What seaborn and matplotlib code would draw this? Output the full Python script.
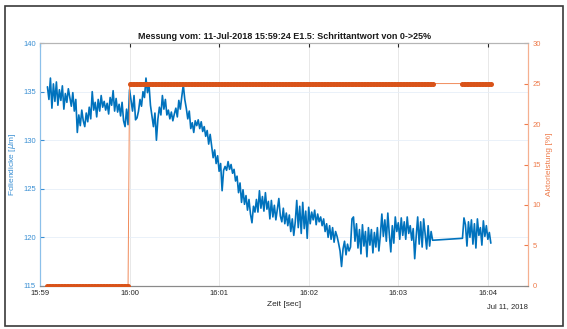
import matplotlib
matplotlib.use("Agg")
import matplotlib.pyplot as plt
import matplotlib.dates as mdates
from matplotlib.patches import Rectangle
import pandas as pd
import seaborn as sns

# seconds after 15:59:00 (one sample per second, gap between 263 and 283)
zeit_sek = list(range(5, 264)) + list(range(283, 303))

foliendicke = [
    135.5, 134.2, 136.4, 133.3, 135.8, 134.0, 136.0, 133.6, 135.2, 134.1,
    135.6, 133.2, 134.8, 133.9, 135.3, 134.4, 133.5, 134.9, 133.0, 134.2,
    130.8, 132.6, 131.5, 133.1, 132.0, 131.4, 132.8, 131.9, 133.4, 132.2,
    135.0, 133.1, 133.9, 132.4, 134.2, 133.0, 134.6, 133.4, 134.0, 133.1,
    133.8, 132.7, 134.4, 133.6, 135.1, 133.0, 134.3, 132.9, 133.7, 132.5,
    133.9, 132.0, 131.4, 133.2, 131.6, 135.2, 134.1, 133.0, 134.6, 132.1,
    132.3, 133.0, 134.2, 133.5, 135.0, 134.4, 136.4, 134.9, 135.8, 133.6,
    132.5, 131.4, 132.8, 130.0, 132.2, 133.4, 132.6, 134.6, 133.2, 134.2,
    132.6, 133.1, 132.2, 132.9, 132.0, 132.7, 133.3, 132.4, 134.1, 133.2,
    134.5, 135.7, 134.2, 133.3, 132.2, 133.0, 131.2, 131.8, 130.8, 132.0,
    131.5, 132.1, 131.2, 131.9, 130.9, 131.4, 130.4, 131.0, 129.6, 130.6,
    129.4, 128.2, 129.0, 127.6, 128.4, 126.8, 127.6, 124.8, 126.9, 127.3,
    126.9, 127.8, 127.0, 127.5, 126.6, 127.0, 125.8, 126.3, 124.6, 125.6,
    123.6, 124.9, 123.4, 124.3, 122.8, 123.9, 122.4, 121.5, 123.2, 122.6,
    123.9, 122.6, 124.8, 123.0, 124.2, 122.7, 124.6, 122.9, 123.7, 121.9,
    123.8, 122.1, 123.3, 121.8, 122.9, 124.0, 122.2, 121.6, 123.0, 121.4,
    122.5, 121.2, 122.3, 120.6, 121.9, 120.2, 121.6, 123.8, 121.0, 123.2,
    120.4, 123.6, 120.9, 122.7, 119.9, 123.1, 121.4, 122.6, 121.8, 122.8,
    121.3, 122.4, 121.6, 122.1, 121.2, 121.9, 120.6, 121.4, 120.0, 121.2,
    119.8, 121.0, 119.5, 120.6, 120.1, 119.4, 118.6, 117.0, 118.8, 119.6,
    118.2, 119.3, 118.6, 119.0, 121.9, 122.1, 119.6, 121.4, 118.9, 120.8,
    118.3, 121.3, 119.1, 120.6, 118.0, 121.0, 119.2, 120.8, 118.4, 120.5,
    119.0, 121.0, 118.6, 120.2, 122.4, 120.1, 121.8, 119.6, 122.5, 120.3,
    118.5, 121.2, 119.4, 122.1, 120.6, 121.5, 119.8, 122.0, 120.2, 121.6,
    119.8, 122.1, 120.4, 121.2, 119.7, 120.9, 117.8, 120.1, 122.1, 119.3,
    121.6, 119.0, 121.9, 120.3, 118.8, 121.2, 119.1, 120.6, 119.7,
    119.9, 122.0, 121.3, 119.1, 121.6, 120.0, 121.8, 119.3, 121.4, 118.9,
    121.9, 120.2, 121.0, 119.2, 121.7, 120.1, 121.2, 119.8, 120.5, 119.4,
]

# step 0 -> 25 % at 16:00:00
aktorleistung = [0] * 55 + [25] * 204 + [25] * 20

start = pd.Timestamp("2018-07-11 15:59:00")
df = pd.DataFrame({
    "zeit": start + pd.to_timedelta(zeit_sek, unit="s"),
    "dicke": foliendicke,
    "aktor": aktorleistung,
})

blau = "#0072BD"
blau_txt = "#3a8fd3"
orange = "#D95319"
orange_txt = "#ee7c4c"

sns.set_style("white")
plt.rcParams["font.family"] = ["Liberation Sans", "DejaVu Sans"]

fig = plt.figure(figsize=(5.67, 3.29), dpi=100)
ax = fig.add_axes([0.0705, 0.131, 0.861, 0.738])
ax2 = ax.twinx()

sns.lineplot(data=df, x="zeit", y="dicke", ax=ax, color=blau, linewidth=1.2)
sns.lineplot(data=df, x="zeit", y="aktor", ax=ax2, color="#f08a5a", linewidth=0.7)
sns.scatterplot(data=df, x="zeit", y="aktor", ax=ax2, color=orange, s=13,
                linewidth=0, zorder=3)

ax.set_xlim(start, start + pd.Timedelta(seconds=327))
ax.set_ylim(115, 140)
ax.set_yticks([115, 120, 125, 130, 135, 140])
ax2.set_ylim(0, 30)
ax2.set_yticks([0, 5, 10, 15, 20, 25, 30])
ax.xaxis.set_major_locator(mdates.MinuteLocator())
ax.xaxis.set_major_formatter(mdates.DateFormatter("%H:%M"))

ax.grid(True, axis="x", color="#e4e4e4", linewidth=0.6)
ax.grid(True, axis="y", color="#e6eff8", linewidth=0.6)

ax.tick_params(axis="x", direction="in", length=3, labelsize=5.5,
               colors="#262626", top=True, pad=3)
ax.tick_params(axis="y", direction="in", length=3, labelsize=5.5,
               colors=blau_txt, pad=3)
ax2.tick_params(axis="y", direction="in", length=3, labelsize=5.5,
                colors=orange_txt, pad=3)

for a in (ax, ax2):
    a.spines["top"].set_color("#b5b5b5")
    a.spines["bottom"].set_color("#8a8a8a")
    a.spines["left"].set_color("#8cc0ea")
    a.spines["right"].set_color("#f5b090")
    for s in a.spines.values():
        s.set_linewidth(0.8)

ax.set_xlabel("Zeit [sec]", fontsize=6, color="#262626", labelpad=3)
ax.set_ylabel("Foliendicke [$\\mu$m]", fontsize=6, color=blau_txt, labelpad=4)
ax2.set_ylabel("Aktorleistung [%]", fontsize=6, color=orange_txt, labelpad=4)
ax.set_title("Messung vom: 11-Jul-2018 15:59:24 E1.5: Schrittantwort von 0->25%",
             fontsize=6.5, fontweight="bold", color="#1a1a1a", pad=3)
ax.text(1.0, -0.07, "Jul 11, 2018", transform=ax.transAxes, ha="right",
        va="top", fontsize=5.5, color="#262626")

fig.patches.append(Rectangle((0.009, 0.01), 0.984, 0.972, transform=fig.transFigure,
                             fill=False, edgecolor="#3a3a3a", linewidth=1.2))

fig.savefig("out.png", dpi=100)
